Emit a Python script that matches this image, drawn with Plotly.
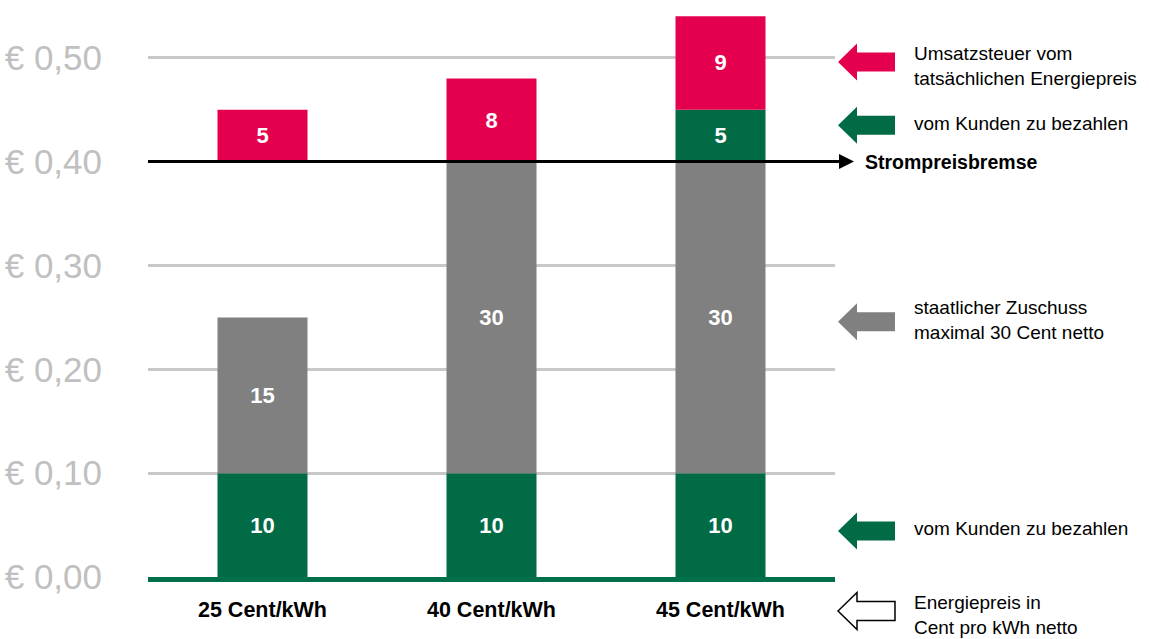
import plotly.graph_objects as go

# ---- data (cents per kWh) ----
categories = ["25 Cent/kWh", "40 Cent/kWh", "45 Cent/kWh"]
customer_base = [10, 10, 10]        # vom Kunden zu bezahlen (bis 10 ct)
state_subsidy = [15, 30, 30]        # staatlicher Zuschuss
customer_extra = [0, 0, 5]          # vom Kunden zu bezahlen (über Bremse)
vat = [5, 8, 9]                     # Umsatzsteuer
brake = 40                          # Strompreisbremse
tick_vals = [0, 10, 20, 30, 40, 50]
tick_text = ["€ 0,00", "€ 0,10", "€ 0,20", "€ 0,30", "€ 0,40", "€ 0,50"]

GREEN = "#006B45"
GRAY = "#808080"
RED = "#E5004F"
FONT = "Liberation Sans, Arial, sans-serif"
Y_MAX = 0.546


def e(v):
    return [x / 100 for x in v]


gray_base = customer_base
extra_base = [brake] * len(categories)
vat_base = [brake + c for c in customer_extra]

fig = go.Figure()
bar_common = dict(width=0.393, textposition="inside", insidetextanchor="middle",
                  textangle=0, constraintext="none",
                  insidetextfont=dict(color="white", size=22, family=FONT, weight="bold"),
                  marker_line_width=0, hoverinfo="skip")

fig.add_bar(x=categories, y=e(customer_base), base=0, marker_color=GREEN,
            text=[str(v) for v in customer_base], **bar_common)
fig.add_bar(x=categories, y=e(state_subsidy), base=e(gray_base), marker_color=GRAY,
            text=[str(v) for v in state_subsidy], **bar_common)
fig.add_bar(x=categories, y=e(customer_extra), base=e(extra_base), marker_color=GREEN,
            text=[str(v) if v else "" for v in customer_extra], **bar_common)
fig.add_bar(x=categories, y=e(vat), base=e(vat_base), marker_color=RED,
            text=[str(v) for v in vat], **bar_common)

fig.update_layout(
    width=1149, height=639,
    margin=dict(l=148, r=314, t=10, b=62, autoexpand=False),
    barmode="overlay", showlegend=False,
    plot_bgcolor="white", paper_bgcolor="white",
    font=dict(family=FONT, color="black"),
    xaxis=dict(showgrid=False, showline=True, linecolor="#00704A", linewidth=5,
               ticks="outside", ticklen=0, ticklabelstandoff=9, automargin=False,
               tickfont=dict(size=21.5, family=FONT, weight="bold", color="black"),
               range=[-0.5, 2.5]),
    yaxis=dict(range=[0, Y_MAX], tickvals=e(tick_vals), ticktext=tick_text,
               showgrid=True, gridcolor="#C8C8C8", gridwidth=3, zeroline=False,
               ticks="outside", ticklen=0, ticklabelstandoff=38, automargin=False,
               tickfont=dict(size=35, family=FONT, color="#C0C0C0")),
)


def px_x(p):
    return (p - 148) / 687


def py(v):
    return v / Y_MAX


# Strompreisbremse line + arrowhead
fig.add_shape(type="line", xref="paper", yref="y", x0=0, x1=px_x(841),
              y0=brake / 100, y1=brake / 100, line=dict(color="black", width=3), layer="above")
fig.add_shape(type="path", xref="paper", yref="y", xsizemode="pixel", ysizemode="pixel",
              xanchor=px_x(854), yanchor=brake / 100,
              path="M0,0 L-15,7.5 L-15,-7.5 Z", fillcolor="black", line=dict(width=0))
fig.add_annotation(xref="paper", yref="y", x=px_x(863), y=brake / 100, xanchor="left",
                   text="<b>Strompreisbremse</b>", showarrow=False,
                   font=dict(size=19.5, family=FONT, color="black"))

arrow_path = "M0,0 L19,18.5 L19,9.5 L57,9.5 L57,-9.5 L19,-9.5 L19,-18.5 Z"
legend_items = [
    (0.496, 0.492, RED, None, "Umsatzsteuer vom<br>tatsächlichen Energiepreis"),
    (0.435, 0.437, GREEN, None, "vom Kunden zu bezahlen"),
    (0.2457, 0.2476, GRAY, None, "staatlicher Zuschuss<br>maximal 30 Cent netto"),
    (0.0443, 0.047, GREEN, None, "vom Kunden zu bezahlen"),
    (-0.0328, -0.0366, "white", "black", "Energiepreis in<br>Cent pro kWh netto"),
]
for ay, ty, fill, outline, label in legend_items:
    fig.add_shape(type="path", xref="paper", yref="paper", xsizemode="pixel", ysizemode="pixel",
                  xanchor=px_x(838), yanchor=py(ay), path=arrow_path, fillcolor=fill,
                  line=dict(color=outline or fill, width=1.5 if outline else 0))
    fig.add_annotation(xref="paper", yref="paper", x=px_x(912), y=py(ty), xanchor="left",
                       yanchor="middle", align="left", text=label, showarrow=False,
                       font=dict(size=19, family=FONT, color="black"))

fig.write_html("out.html")
